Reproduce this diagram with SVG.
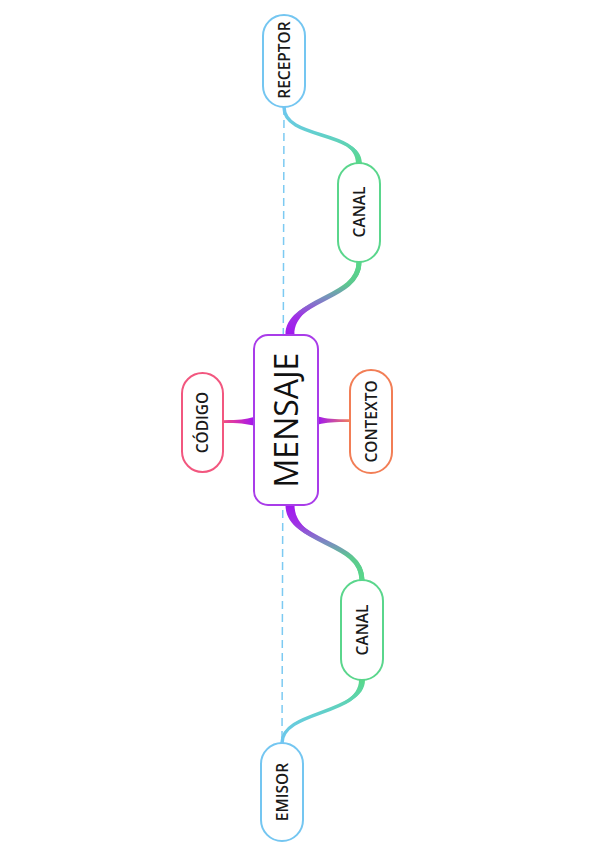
<svg xmlns="http://www.w3.org/2000/svg" width="599" height="848" viewBox="0 0 599 848">
<style>
.node rect{fill:#fff;stroke-width:2}
.lbl{font-family:"Open Sans","DejaVu Sans",sans-serif;font-weight:600;font-size:15.5px;fill:#1a1a1a;text-anchor:middle}
.big{font-family:"Open Sans","DejaVu Sans",sans-serif;font-weight:500;font-size:32px;fill:#111;text-anchor:middle}
.br{fill:none}
</style>
<defs>
<linearGradient id="gRC" gradientUnits="userSpaceOnUse" x1="0" y1="107" x2="0" y2="163">
<stop offset="0" stop-color="#6fc6f3"/><stop offset="0.45" stop-color="#63cfd0"/><stop offset="1" stop-color="#58d88a"/>
</linearGradient>
<linearGradient id="gCM" gradientUnits="userSpaceOnUse" x1="0" y1="262" x2="0" y2="335">
<stop offset="0" stop-color="#58d88a"/><stop offset="0.3" stop-color="#5cc98f"/><stop offset="0.5" stop-color="#7a8cc0"/><stop offset="0.75" stop-color="#a030e6"/><stop offset="1" stop-color="#a018ee"/>
</linearGradient>
<linearGradient id="gMC" gradientUnits="userSpaceOnUse" x1="0" y1="505" x2="0" y2="580">
<stop offset="0" stop-color="#a018ee"/><stop offset="0.25" stop-color="#a030e6"/><stop offset="0.5" stop-color="#7a8cc0"/><stop offset="0.7" stop-color="#5cc98f"/><stop offset="1" stop-color="#58d88a"/>
</linearGradient>
<linearGradient id="gCE" gradientUnits="userSpaceOnUse" x1="0" y1="680" x2="0" y2="743">
<stop offset="0" stop-color="#58d88a"/><stop offset="0.55" stop-color="#63cfd0"/><stop offset="1" stop-color="#6fc6f3"/>
</linearGradient>
<linearGradient id="gCod" gradientUnits="userSpaceOnUse" x1="254" y1="0" x2="223" y2="0">
<stop offset="0" stop-color="#a018ee"/><stop offset="0.5" stop-color="#d02cb8"/><stop offset="1" stop-color="#f24f82"/>
</linearGradient>
<linearGradient id="gCtx" gradientUnits="userSpaceOnUse" x1="318" y1="0" x2="350" y2="0">
<stop offset="0" stop-color="#a018ee"/><stop offset="0.5" stop-color="#c84aa8"/><stop offset="1" stop-color="#f3805a"/>
</linearGradient>
</defs>

<g id="connectors">
<line x1="284" y1="107" x2="282" y2="743" stroke="#7ccaf2" stroke-width="1.5" stroke-dasharray="8 5"/>
<path d="M284,107 C284,140 359,130 359,163" class="br" stroke="url(#gRC)" stroke-width="3.5"/>
<path d="M283,107 C283,140 356,130 356,163 L362,163 C362,130 285,140 285,107 Z" fill="url(#gRC)"/>
<path d="M359,262 C359,300 290,297 290,335" class="br" stroke="url(#gCM)" stroke-width="5"/>
<path d="M356.5,262 C356.5,300 285.5,297 285.5,335 L294.5,335 C294.5,297 361.5,300 361.5,262 Z" fill="url(#gCM)"/>
<path d="M290,505 C290,545 362,540 362,580" class="br" stroke="url(#gMC)" stroke-width="5"/>
<path d="M285.5,505 C285.5,545 359.5,540 359.5,580 L364.5,580 C364.5,540 294.5,545 294.5,505 Z" fill="url(#gMC)"/>
<path d="M362,680 C362,715 282,710 282,743" class="br" stroke="url(#gCE)" stroke-width="3.5"/>
<path d="M359,680 C359,715 281,710 281,743 L283,743 C283,710 365,715 365,680 Z" fill="url(#gCE)"/>
<path d="M254,417 C245,419.5 240,420 223,420.2 L223,423 C240,423 245,423.8 254,425.5 Z" fill="url(#gCod)"/>
<path d="M318,416.5 C327,419 333,419.3 350,419.3 L350,422 C333,422 327,422.5 318,424.5 Z" fill="url(#gCtx)"/>
</g>

<g id="receptor" class="node">
<rect x="263" y="15" width="42" height="92" rx="21" stroke="#74c6f1"/>
<text class="lbl" transform="translate(284,60) rotate(-90)" x="0" y="5.5">RECEPTOR</text>
</g>
<g id="canal1" class="node">
<rect x="338" y="163" width="42" height="99" rx="21" stroke="#5ad68c"/>
<text class="lbl" transform="translate(359,212) rotate(-90)" x="0" y="5.5">CANAL</text>
</g>
<g id="mensaje" class="node">
<rect x="254" y="335" width="64" height="170" rx="14" stroke="#a93ce9"/>
<text class="big" transform="translate(287,420) rotate(-90)" x="0" y="11.4">MENSAJE</text>
</g>
<g id="codigo" class="node">
<rect x="182" y="373" width="41" height="99" rx="20.5" stroke="#f2577f"/>
<text class="lbl" transform="translate(202.5,422.5) rotate(-90)" x="0" y="5.5">CÓDIGO</text>
</g>
<g id="contexto" class="node">
<rect x="350" y="370" width="42" height="103" rx="21" stroke="#f27e56"/>
<text class="lbl" transform="translate(371,421.5) rotate(-90)" x="0" y="5.5">CONTEXTO</text>
</g>
<g id="canal2" class="node">
<rect x="341" y="580" width="42" height="100" rx="21" stroke="#5ad68c"/>
<text class="lbl" transform="translate(362,630) rotate(-90)" x="0" y="5.5">CANAL</text>
</g>
<g id="emisor" class="node">
<rect x="261" y="743" width="42" height="98" rx="21" stroke="#74c6f1"/>
<text class="lbl" transform="translate(282,792) rotate(-90)" x="0" y="5.5">EMISOR</text>
</g>
</svg>
